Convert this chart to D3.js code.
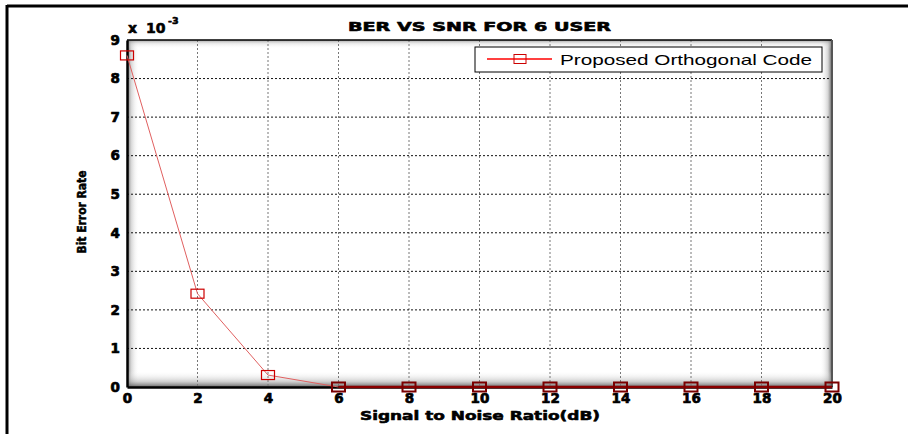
<!DOCTYPE html>
<html>
<head>
<meta charset="utf-8">
<script src="https://cdn.jsdelivr.net/npm/d3@7"></script>
<style>
  html, body { margin: 0; padding: 0; background: #fff; }
  svg { display: block; }
</style>
</head>
<body>
<svg id="chart" width="908" height="434"></svg>
<script>
// ---- data ----
const snr = [0, 2, 4, 6, 8, 10, 12, 14, 16, 18, 20];
const ber = [8.6, 2.42, 0.31, 0, 0, 0, 0, 0, 0, 0, 0]; // x 10^-3
const xTicks = [0, 2, 4, 6, 8, 10, 12, 14, 16, 18, 20];
const yTicks = [0, 1, 2, 3, 4, 5, 6, 7, 8, 9];
const seriesName = "Proposed Orthogonal Code";
const titleText = "BER VS SNR FOR 6 USER";
const xLabel = "Signal to Noise Ratio(dB)";
const yLabel = "Bit Error Rate";

const svg = d3.select("#chart");
const L = 127, R = 832, T = 40, B = 387;
const x = d3.scaleLinear().domain([0, 20]).range([L, R]);
const y = d3.scaleLinear().domain([0, 9]).range([B, T]);

// outer frame (top & left)
svg.append("line").attr("x1", 7).attr("x2", 908).attr("y1", 6).attr("y2", 6)
  .attr("stroke", "#000").attr("stroke-width", 3);
svg.append("line").attr("x1", 7).attr("x2", 7).attr("y1", 5).attr("y2", 434)
  .attr("stroke", "#000").attr("stroke-width", 3);

// gradients for inner shading
const defs = svg.append("defs");
function grad(id, x1, y1, x2, y2, stops) {
  const g = defs.append("linearGradient").attr("id", id)
    .attr("x1", x1).attr("y1", y1).attr("x2", x2).attr("y2", y2);
  stops.forEach(s => g.append("stop").attr("offset", s[0]).attr("stop-color", s[1]).attr("stop-opacity", s[2]));
}
grad("gl", 0, 0, 1, 0, [[0, "#555", 0.9], [0.35, "#999", 0.4], [1, "#fff", 0]]);
grad("gr", 1, 0, 0, 0, [[0, "#444", 0.9], [0.35, "#999", 0.4], [1, "#fff", 0]]);
grad("gt", 0, 0, 0, 1, [[0, "#777", 0.7], [0.4, "#bbb", 0.3], [1, "#fff", 0]]);
grad("gb", 0, 1, 0, 0, [[0, "#555", 0.9], [0.35, "#999", 0.45], [1, "#fff", 0]]);

const plot = svg.append("g");
plot.append("rect").attr("x", L).attr("y", T).attr("width", R - L).attr("height", B - T).attr("fill", "#fff");
plot.append("rect").attr("x", L).attr("y", T).attr("width", 12).attr("height", B - T).attr("fill", "url(#gl)");
plot.append("rect").attr("x", R - 12).attr("y", T).attr("width", 12).attr("height", B - T).attr("fill", "url(#gr)");
plot.append("rect").attr("x", L).attr("y", T).attr("width", R - L).attr("height", 9).attr("fill", "url(#gt)");
plot.append("rect").attr("x", L).attr("y", B - 16).attr("width", R - L).attr("height", 16).attr("fill", "url(#gb)");

// grid
plot.selectAll(".vg").data(xTicks.filter(d => d > 0 && d < 20)).enter().append("line")
  .attr("x1", d => x(d)).attr("x2", d => x(d)).attr("y1", T).attr("y2", B)
  .attr("stroke", "#777").attr("stroke-width", 1).attr("stroke-dasharray", "2,2");
plot.selectAll(".hg").data(yTicks.filter(d => d > 0 && d < 9)).enter().append("line")
  .attr("x1", L).attr("x2", R).attr("y1", d => y(d)).attr("y2", d => y(d))
  .attr("stroke", "#111").attr("stroke-width", 1).attr("stroke-dasharray", "2,2");

// box edges
plot.append("line").attr("x1", L).attr("x2", R).attr("y1", T).attr("y2", T).attr("stroke", "#000").attr("stroke-width", 1.5);
plot.append("line").attr("x1", R).attr("x2", R).attr("y1", T).attr("y2", B).attr("stroke", "#555").attr("stroke-width", 2);

// heavy text helper
const fontTick = "'DejaVu Sans', sans-serif";
function heavy(sel, w) {
  return sel.attr("font-family", fontTick).attr("font-weight", "bold")
    .attr("fill", "#000").attr("stroke", "#000").attr("stroke-width", w)
    .attr("stroke-linejoin", "round");
}

// axes via d3
const xAxis = svg.append("g").attr("transform", `translate(0,${B})`)
  .call(d3.axisBottom(x).tickValues(xTicks).tickSize(0).tickPadding(6).tickFormat(d3.format("d")));
xAxis.select(".domain").attr("stroke", "#000").attr("stroke-width", 2.5);
heavy(xAxis.selectAll("text"), 0.7).attr("font-size", 13.5);

const yAxis = svg.append("g").attr("transform", `translate(${L},0)`)
  .call(d3.axisLeft(y).tickValues(yTicks).tickSize(0).tickPadding(7).tickFormat(d3.format("d")));
yAxis.select(".domain").attr("stroke", "#000").attr("stroke-width", 2.5);
heavy(yAxis.selectAll("text"), 0.7).attr("font-size", 13.5);

// series
const pts = snr.map((s, i) => ({ s, v: ber[i] }));
const line = d3.line().x(d => x(d.s)).y(d => y(d.v));
svg.append("path").datum(pts.slice(0, 4)).attr("d", line)
  .attr("fill", "none").attr("stroke", "#e06060").attr("stroke-width", 1);
svg.append("path").datum(pts.slice(3)).attr("d", line)
  .attr("fill", "none").attr("stroke", "#8a0000").attr("stroke-width", 2.5);

svg.selectAll(".mk").data(pts).enter().append("rect")
  .attr("x", d => x(d.s) - 6.5).attr("y", d => y(d.v) - 4.5)
  .attr("width", 13).attr("height", 9)
  .attr("fill", "none")
  .attr("stroke", d => d.v === 0 ? "#7a0000" : "#cc0000")
  .attr("stroke-width", d => d.v === 0 ? 2 : 1.2);

// title
heavy(svg.append("text"), 0.6).attr("x", (L + R) / 2).attr("y", 31).attr("text-anchor", "middle")
  .attr("font-size", 12.5)
  .attr("textLength", 263).attr("lengthAdjust", "spacingAndGlyphs").text(titleText);

// exponent
const ex = heavy(svg.append("text"), 0.6).attr("x", 128).attr("y", 33).attr("font-size", 14);
ex.append("tspan").text("x");
ex.append("tspan").attr("x", 146).text("10");
ex.append("tspan").attr("x", 168).attr("dy", -9).attr("font-size", 9.5).text("-3");

// axis labels
heavy(svg.append("text"), 0.6).attr("x", 480).attr("y", 420).attr("text-anchor", "middle")
  .attr("font-size", 13)
  .attr("textLength", 240).attr("lengthAdjust", "spacingAndGlyphs").text(xLabel);
heavy(svg.append("text"), 0.5).attr("transform", "translate(86,212) rotate(-90)").attr("text-anchor", "middle")
  .attr("font-size", 12)
  .attr("textLength", 83).attr("lengthAdjust", "spacingAndGlyphs").text(yLabel);

// legend
const lg = svg.append("g");
lg.append("rect").attr("x", 475).attr("y", 47).attr("width", 347).attr("height", 25)
  .attr("fill", "#fff").attr("stroke", "#000").attr("stroke-width", 1);
lg.append("line").attr("x1", 487).attr("x2", 552).attr("y1", 59).attr("y2", 59)
  .attr("stroke", "#ff0000").attr("stroke-width", 1.5);
lg.append("rect").attr("x", 514).attr("y", 54.5).attr("width", 12).attr("height", 9)
  .attr("fill", "none").attr("stroke", "#cc0000").attr("stroke-width", 1);
lg.append("text").attr("x", 560).attr("y", 64.5)
  .attr("font-family", "'Liberation Sans', Arial, sans-serif").attr("font-size", 14.5)
  .attr("textLength", 252).attr("lengthAdjust", "spacingAndGlyphs").text(seriesName);
</script>
</body>
</html>
